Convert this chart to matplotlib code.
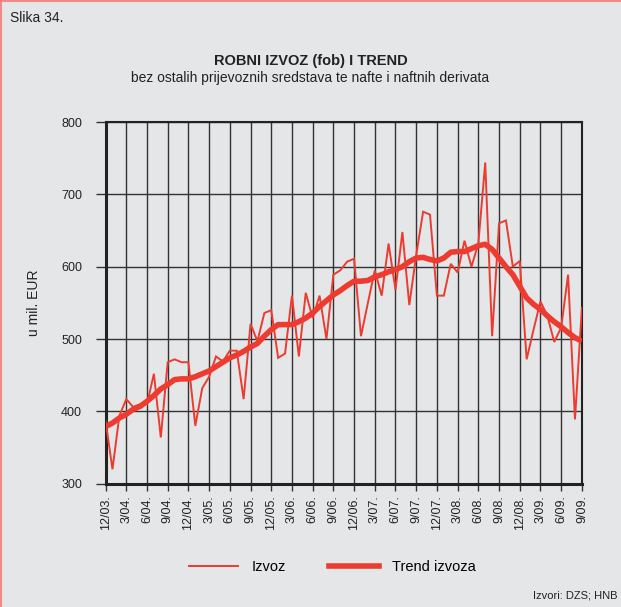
import matplotlib
matplotlib.use("Agg")
import matplotlib.pyplot as plt
from matplotlib.lines import Line2D

plt.rcParams['font.family'] = ['Liberation Sans', 'DejaVu Sans']

# Monthly data 12/2003 .. 9/2009
izvoz = [387, 320, 394, 417, 406, 410, 410, 452, 364, 468, 472, 468,
         468, 380, 432, 448, 476, 469, 484, 484, 417, 521, 497, 536,
         540, 474, 480, 560, 476, 564, 529, 560, 500, 589, 595, 607,
         611, 504, 550, 595, 560, 632, 568, 648, 547, 616, 676, 672,
         560, 560, 604, 592, 636, 600, 632, 744, 504, 660, 664, 600,
         608, 472, 513, 552, 532, 496, 516, 589, 389, 543]
trend = [379, 384, 391, 396, 403, 407, 414, 422, 431, 437, 444, 445,
         445, 448, 452, 456, 462, 468, 474, 478, 483, 489, 494, 504,
         513, 520, 520, 520, 524, 529, 536, 545, 553, 561, 567, 574,
         580, 580, 581, 586, 589, 593, 596, 600, 607, 612, 613, 610,
         608, 612, 620, 621, 621, 625, 629, 631, 624, 612, 600, 589,
         573, 557, 548, 541, 532, 524, 517, 509, 502, 497]
tick_labels = ['12/03.', '3/04.', '6/04.', '9/04.', '12/04.', '3/05.', '6/05.', '9/05.',
               '12/05.', '3/06.', '6/06.', '9/06.', '12/06.', '3/07.', '6/07.', '9/07.',
               '12/07.', '3/08.', '6/08.', '9/08.', '12/08.', '3/09.', '6/09.', '9/09.']
y_ticks = [300, 400, 500, 600, 700, 800]

bg = '#E5E6E8'
red = '#EE3B30'

fig = plt.figure(figsize=(6.21, 6.07), dpi=100, facecolor=bg)
ax = fig.add_axes([0.170, 0.203, 0.767, 0.596], facecolor=bg)

x = list(range(len(izvoz)))
ax.plot(x, izvoz, color=red, lw=1.4, solid_joinstyle='miter', zorder=3)
ax.plot(x, trend, color=red, lw=4.0, solid_capstyle='butt', zorder=4)

ax.set_xlim(0, len(izvoz) - 1)
ax.set_ylim(300, 800)
ax.set_xticks(list(range(0, len(izvoz), 3)))
ax.set_xticklabels(tick_labels, rotation=90, fontsize=9, color='#222222')
ax.set_yticks(y_ticks)
ax.set_yticklabels([str(v) for v in y_ticks], fontsize=9, color='#222222')
ax.grid(True, color='#333333', lw=1.0, zorder=1)
ax.set_axisbelow(True)
ax.tick_params(axis='x', direction='out', length=5, width=1, color='#333333', pad=3)
ax.tick_params(axis='y', direction='out', length=7, width=1, color='#333333', pad=10)
for s in ['top', 'right']:
    ax.spines[s].set_linewidth(1.5)
    ax.spines[s].set_color('#222222')
for s in ['left', 'bottom']:
    ax.spines[s].set_linewidth(2.2)
    ax.spines[s].set_color('#222222')

ax.set_ylabel('u mil. EUR', fontsize=10, color='#222222')
ax.yaxis.set_label_coords(-0.136, 0.5)

fig.text(0.016, 0.970, 'Slika 34.', fontsize=10, ha='left', va='center', color='#222222')
fig.text(0.5, 0.900, 'ROBNI IZVOZ (fob) I TREND', fontsize=10.5, fontweight='bold',
         ha='center', va='center', color='#222222')
fig.text(0.5, 0.872, 'bez ostalih prijevoznih sredstava te nafte i naftnih derivata',
         fontsize=10, ha='center', va='center', color='#222222')
fig.text(0.995, 0.010, 'Izvori: DZS; HNB', fontsize=8, ha='right', va='bottom', color='#222222')

handles = [Line2D([], [], color=red, lw=1.4), Line2D([], [], color=red, lw=4.0)]
fig.legend(handles, ['Izvoz', 'Trend izvoza'], loc='center', bbox_to_anchor=(0.535, 0.066),
           ncol=2, frameon=False, fontsize=10.5, handlelength=3.4, columnspacing=3.0,
           handletextpad=0.9)

# figure border (top and left)
fig.add_artist(Line2D([0.0015, 0.0015], [0, 1], transform=fig.transFigure, color='#F08A84', lw=1.5))
fig.add_artist(Line2D([0, 1], [0.9985, 0.9985], transform=fig.transFigure, color='#F08A84', lw=1.5))

fig.savefig('out.png', dpi=100, facecolor=bg)
